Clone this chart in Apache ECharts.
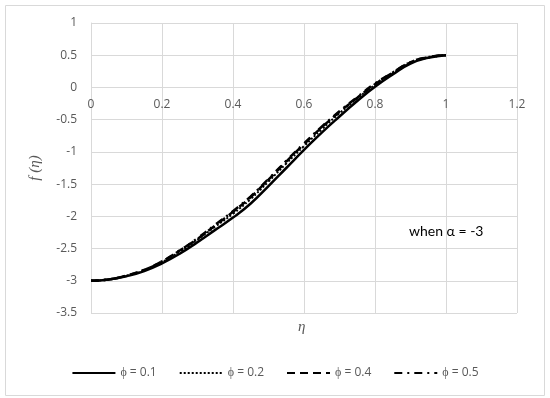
<!DOCTYPE html>
<html><head><meta charset="utf-8">
<script src="https://cdn.jsdelivr.net/npm/echarts@6/dist/echarts.min.js"></script>
<style>html,body{margin:0;padding:0;background:#fff}#c{width:550px;height:398px}</style>
</head><body><div id="c"></div>
<script>
const eta = [0,0.05,0.1,0.15,0.2,0.25,0.3,0.35,0.4,0.45,0.5,0.55,0.6,0.65,0.7,0.75,0.8,0.85,0.9,0.95,1.0];
const phi01 = [-3.00,-2.98,-2.93,-2.85,-2.73,-2.58,-2.40,-2.21,-2.02,-1.80,-1.53,-1.25,-0.97,-0.70,-0.45,-0.21,0.01,0.20,0.37,0.46,0.50];
const phi02 = [-3.00,-2.98,-2.92,-2.84,-2.71,-2.55,-2.36,-2.16,-1.96,-1.73,-1.46,-1.18,-0.91,-0.65,-0.40,-0.17,0.04,0.22,0.38,0.46,0.50];
const phi04 = [-3.00,-2.98,-2.92,-2.83,-2.70,-2.53,-2.35,-2.14,-1.93,-1.70,-1.43,-1.15,-0.88,-0.62,-0.38,-0.16,0.05,0.23,0.39,0.47,0.50];
const phi05 = [-3.00,-2.98,-2.92,-2.83,-2.70,-2.53,-2.34,-2.13,-1.92,-1.69,-1.42,-1.14,-0.87,-0.61,-0.37,-0.15,0.06,0.23,0.39,0.47,0.50];
const seriesNames = ['ϕ = 0.1','ϕ = 0.2','ϕ = 0.4','ϕ = 0.5'];
const xTicks = {min:0,max:1.2,interval:0.2};
const yTicks = {min:-3.5,max:1,interval:0.5};

const pair = a => eta.map((x,i)=>[x,a[i]]);
const styles = [
  {type:'solid', width:2.5},
  {type:'dotted', width:2},
  {type:[8,5], width:2.5},
  {type:[8,5,2,5], width:2.5}
];
const datas = [phi01,phi02,phi04,phi05];
const chart = echarts.init(document.getElementById('c'));
const gray = '#d9d9d9', lab = '#595959';
chart.setOption({
  animation:false,
  grid:{left:91,right:33,top:23,bottom:85,containLabel:false},
  xAxis:{type:'value',min:xTicks.min,max:xTicks.max,interval:xTicks.interval,
    offset:-226,
    axisLine:{show:false},axisTick:{show:false},
    axisLabel:{color:lab,fontSize:12,fontFamily:'Open Sans',margin:12,formatter:v=>String(+v.toFixed(1))},
    splitLine:{show:true,lineStyle:{color:gray,width:1}}},
  yAxis:{type:'value',min:yTicks.min,max:yTicks.max,interval:yTicks.interval,
    name:'f (η)',nameLocation:'middle',nameGap:48,
    nameTextStyle:{color:lab,fontSize:15,fontStyle:'italic',fontFamily:'Liberation Serif'},
    axisLine:{show:true,lineStyle:{color:gray}},axisTick:{show:false},
    axisLabel:{color:lab,fontSize:12,fontFamily:'Open Sans',margin:14,formatter:v=>String(+v.toFixed(1))},
    splitLine:{show:true,lineStyle:{color:gray,width:1}}},
  legend:{bottom:14,left:'center',itemWidth:43,itemHeight:10,itemGap:22,
    itemStyle:{opacity:0},
    textStyle:{color:lab,fontSize:12,fontFamily:'Open Sans'},
    data:seriesNames},
  graphic:[
    {type:'rect',shape:{x:5.5,y:5.5,width:539,height:390},style:{fill:'none',stroke:gray,lineWidth:1},silent:true,z:-1},
    {type:'text',left:298,top:320,style:{text:'η',fill:lab,font:'italic 15px "Liberation Serif"'}},
    {type:'text',left:409,top:224,style:{text:'when α = -3',fill:'#000',font:'14px Lato'}}
  ],
  series:datas.map((d,i)=>({
    name:seriesNames[i],type:'line',data:pair(d),smooth:true,symbol:'none',showSymbol:false,
    lineStyle:{color:'#000',type:styles[i].type,width:styles[i].width},
    itemStyle:{color:'#000'},z:10-i
  }))
});
</script></body></html>
